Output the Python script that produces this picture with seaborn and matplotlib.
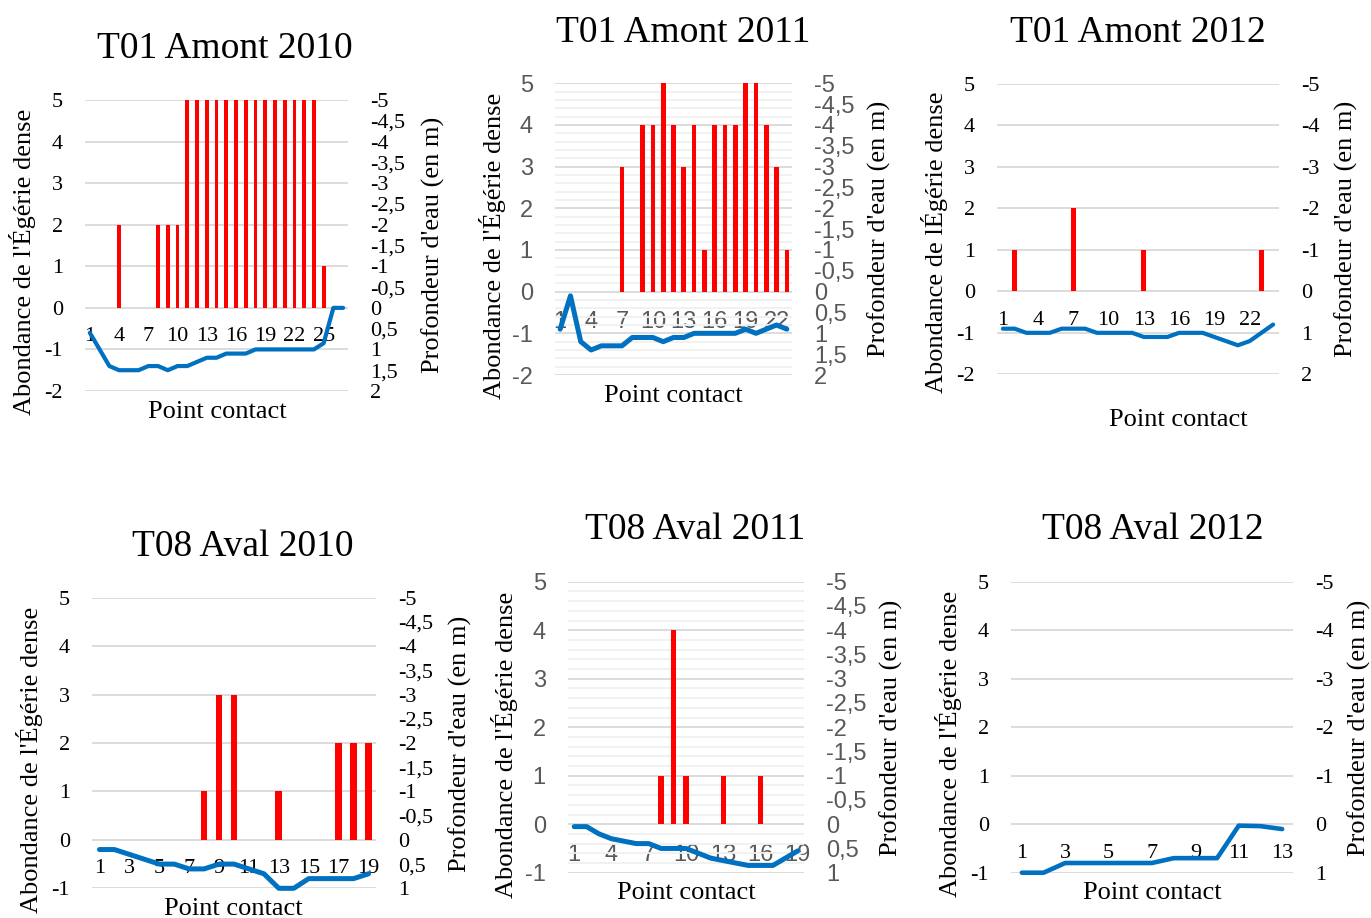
import numpy as np
import pandas as pd
import matplotlib
matplotlib.use("Agg")
import matplotlib.pyplot as plt
from matplotlib.ticker import FuncFormatter, MultipleLocator, FixedLocator
import seaborn as sns

# ---- data -------------------------------------------------------------
titles = ["T01 Amont 2010", "T01 Amont 2011", "T01 Amont 2012",
          "T08 Aval 2010", "T08 Aval 2011", "T08 Aval 2012"]

abund_t01_2010 = [0, 0, 0, 2, 0, 0, 0, 2, 2, 2, 5, 5, 5, 5, 5, 5, 5, 5, 5, 5,
                  5, 5, 5, 5, 1, 0, 0]
depth_t01_2010 = [0.6, 1.0, 1.4, 1.5, 1.5, 1.5, 1.4, 1.4, 1.5, 1.4, 1.4, 1.3,
                  1.2, 1.2, 1.1, 1.1, 1.1, 1.0, 1.0, 1.0, 1.0, 1.0, 1.0, 1.0,
                  0.85, 0.0, 0.0]

abund_t01_2011 = [0, 0, 0, 0, 0, 0, 3, 0, 4, 4, 5, 4, 3, 4, 1, 4, 4, 4, 5, 5,
                  4, 3, 1]
depth_t01_2011 = [0.9, 0.1, 1.2, 1.4, 1.3, 1.3, 1.3, 1.1, 1.1, 1.1, 1.2, 1.1,
                  1.1, 1.0, 1.0, 1.0, 1.0, 1.0, 0.9, 1.0, 0.9, 0.8, 0.9]

abund_t01_2012 = [0, 1, 0, 0, 0, 0, 2, 0, 0, 0, 0, 0, 1, 0, 0, 0, 0, 0, 0, 0,
                  0, 0, 1, 0]
depth_t01_2012 = [0.9, 0.9, 1.0, 1.0, 1.0, 0.9, 0.9, 0.9, 1.0, 1.0, 1.0, 1.0,
                  1.1, 1.1, 1.1, 1.0, 1.0, 1.0, 1.1, 1.2, 1.3, 1.2, 1.0, 0.8]

abund_t08_2010 = [0, 0, 0, 0, 0, 0, 0, 1, 3, 3, 0, 0, 1, 0, 0, 0, 2, 2, 2]
depth_t08_2010 = [0.2, 0.2, 0.3, 0.4, 0.5, 0.5, 0.6, 0.6, 0.5, 0.5, 0.6, 0.7,
                  1.0, 1.0, 0.8, 0.8, 0.8, 0.8, 0.7]

abund_t08_2011 = [0, 0, 0, 0, 0, 0, 0, 1, 4, 1, 0, 0, 1, 0, 0, 1, 0, 0, 0]
depth_t08_2011 = [0.05, 0.05, 0.2, 0.3, 0.35, 0.4, 0.4, 0.5, 0.5, 0.5, 0.6,
                  0.7, 0.75, 0.8, 0.85, 0.85, 0.85, 0.7, 0.55]

abund_t08_2012 = [0, 0, 0, 0, 0, 0, 0, 0, 0, 0, 0, 0, 0]
depth_t08_2012 = [1.0, 1.0, 0.8, 0.8, 0.8, 0.8, 0.8, 0.7, 0.7, 0.7, 0.03,
                  0.04, 0.1]

abundances = [abund_t01_2010, abund_t01_2011, abund_t01_2012,
              abund_t08_2010, abund_t08_2011, abund_t08_2012]
depths = [depth_t01_2010, depth_t01_2011, depth_t01_2012,
          depth_t08_2010, depth_t08_2011, depth_t08_2012]

ylabel_left = ["Abondance de l'Égérie dense", "Abondance de l'Égérie dense",
               "Abondance de lÉgérie dense", "Abondance de l'Égérie dense",
               "Abondance de l'Égérie dense", "Abondance de l'Égérie dense"]
ylabel_right = "Profondeur d'eau (en m)"
xlabel = "Point contact"

# ---- layout / style (pixel coordinates on a 1371x918 canvas) ---------
W, H = 1371, 918
panels = [
    dict(box=(85, 348, 100, 391), ymin=-2, rstep=0.5, xstep=3, bw=0.39, lw=3.0,
         sans=False, minor=False, title=(225, 49), yl=(23, 262), yr=(433, 245), xl=(217, 412)),
    dict(box=(555, 792, 83.3, 375), ymin=-2, rstep=0.5, xstep=3, bw=0.45, lw=3.6,
         sans=True, minor=True, title=(683, 33), yl=(492, 246), yr=(879, 229), xl=(673, 396)),
    dict(box=(997, 1279, 84, 374.3), ymin=-2, rstep=1, xstep=3, bw=0.42, lw=3.0,
         sans=False, minor=False, title=(1138, 33), yl=(934, 242), yr=(1346, 229), xl=(1178, 420)),
    dict(box=(92, 376, 597.7, 888.3), ymin=-1, rstep=0.5, xstep=2, bw=0.45, lw=3.6,
         sans=False, minor=False, title=(243, 547), yl=(30, 760), yr=(460, 744), xl=(233, 909)),
    dict(box=(568, 804, 581.7, 872.7), ymin=-1, rstep=0.5, xstep=3, bw=0.43, lw=3.6,
         sans=True, minor=True, title=(695, 530), yl=(504, 745), yr=(891, 728), xl=(686, 893)),
    dict(box=(1011, 1293, 581.7, 872.7), ymin=-1, rstep=1, xstep=2, bw=0.4, lw=3.3,
         sans=False, minor=False, title=(1153, 530), yl=(949, 744), yr=(1359, 728), xl=(1152, 893)),
]

BAR_RED = "#FF0000"
LINE_BLUE = "#0070C0"
GRID_MAJOR = "#D9D9D9"
GRID_MINOR = "#F0F0F0"
SERIF = "Liberation Serif"
SANS = "Liberation Sans"

sns.set_theme(style="white")
plt.rcParams["font.family"] = [SERIF, "DejaVu Serif"]
plt.rcParams["axes.unicode_minus"] = False

fig = plt.figure(figsize=(W / 100, H / 100), dpi=100)
fig.patch.set_facecolor("white")


def fig_xy(px, py):
    return px / W, 1 - py / H


def comma_fmt(v, _pos=None):
    if abs(v) < 1e-9:
        return "0"
    s = f"{v:g}"
    return s.replace(".", ",")


for i, p in enumerate(panels):
    x0, x1, ytop, ybot = p["box"]
    ax = fig.add_axes([x0 / W, 1 - ybot / H, (x1 - x0) / W, (ybot - ytop) / H])
    n = len(abundances[i])
    pts = np.arange(1, n + 1)
    df = pd.DataFrame({"point": pts, "abondance": abundances[i],
                       "pos": np.arange(n), "profondeur": depths[i]})

    sns.barplot(data=df, x="point", y="abondance", ax=ax, color=BAR_RED,
                saturation=1, width=p["bw"], linewidth=0, errorbar=None,
                zorder=3)
    ax.set_ylim(p["ymin"], 5)
    ax.set_xlim(-0.5, n - 0.5)
    ax.set_xlabel("")
    ax.set_ylabel("")

    # gridlines
    ax.yaxis.set_major_locator(MultipleLocator(1))
    ax.yaxis.set_major_formatter(FuncFormatter(comma_fmt))
    ax.set_axisbelow(True)
    ax.grid(axis="y", which="major", color=GRID_MAJOR, linewidth=1.3, zorder=0)
    if p["minor"]:
        ax.yaxis.set_minor_locator(MultipleLocator(0.2))
        ax.grid(axis="y", which="minor", color=GRID_MINOR, linewidth=1.3, zorder=0)
    ax.grid(axis="x", visible=False)

    # category labels sit just under the zero line
    ax.spines["bottom"].set_position(("data", 0))
    for s in ax.spines.values():
        s.set_visible(False)
    tick_pos = list(range(0, n, p["xstep"]))
    ax.xaxis.set_major_locator(FixedLocator(tick_pos))
    ax.set_xticklabels([str(pts[k]) for k in tick_pos])

    tick_family = [SANS, "DejaVu Sans"] if p["sans"] else [SERIF, "DejaVu Serif"]
    tick_color = "#595959" if p["sans"] else "black"
    tick_size = 17 if p["sans"] else 16
    ax.tick_params(axis="both", which="both", length=0)
    ax.tick_params(axis="y", pad=16, labelsize=tick_size, labelcolor=tick_color)
    ax.tick_params(axis="x", pad=14, labelsize=tick_size, labelcolor=tick_color)
    for lab in ax.get_xticklabels() + ax.get_yticklabels():
        lab.set_fontfamily(tick_family)

    # depth on the secondary, reversed axis
    ax2 = ax.twinx()
    sns.lineplot(data=df, x="pos", y="profondeur", ax=ax2, color=LINE_BLUE,
                 linewidth=p["lw"], solid_capstyle="round",
                 solid_joinstyle="round", zorder=4, clip_on=False)
    ax2.set_ylim(-p["ymin"], -5)
    ax2.set_xlim(-0.5, n - 0.5)
    ax2.set_xlabel("")
    ax2.set_ylabel("")
    ax2.yaxis.set_major_locator(MultipleLocator(p["rstep"]))
    ax2.yaxis.set_major_formatter(FuncFormatter(comma_fmt))
    ax2.grid(False)
    for s in ax2.spines.values():
        s.set_visible(False)
    ax2.tick_params(axis="y", length=0, pad=16, labelsize=tick_size,
                    labelcolor=tick_color)
    for lab in ax2.get_yticklabels():
        lab.set_fontfamily(tick_family)

    # titles and axis captions
    tx, ty = fig_xy(*p["title"])
    fig.text(tx, ty, titles[i], ha="center", va="center", fontsize=27,
             color="black")
    lx, ly = fig_xy(*p["yl"])
    fig.text(lx, ly, ylabel_left[i], ha="center", va="center", rotation=90,
             fontsize=19, color="black")
    rx, ry = fig_xy(*p["yr"])
    fig.text(rx, ry, ylabel_right, ha="center", va="center", rotation=90,
             fontsize=19, color="black")
    bx, by = fig_xy(*p["xl"])
    fig.text(bx, by, xlabel, ha="center", va="center", fontsize=19,
             color="black")

fig.savefig("out.png", dpi=100, facecolor="white")
